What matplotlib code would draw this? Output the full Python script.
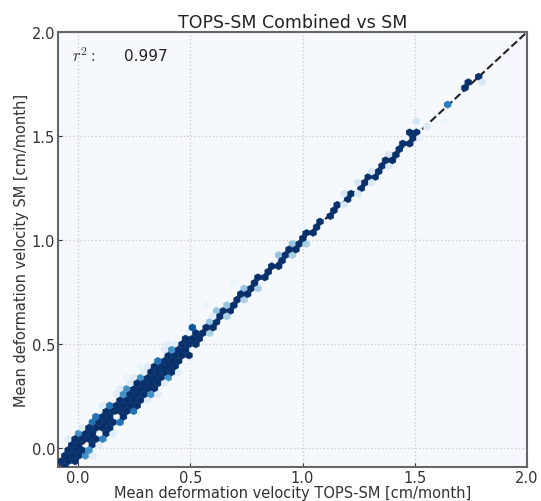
import numpy as np
import matplotlib
matplotlib.use('Agg')
import matplotlib.pyplot as plt

plt.rcParams['mathtext.fontset'] = 'cm'

# main diagonal band
core_x = [-0.07, -0.05, -0.03, -0.01, 0.01, 0.03, 0.05, 0.07, 0.09, 0.11,
          0.13, 0.15, 0.17, 0.19, 0.21, 0.23, 0.25, 0.27, 0.29, 0.31,
          0.33, 0.35, 0.37, 0.39, 0.41, 0.43, 0.45, 0.47, 0.49, 0.51,
          0.53, 0.55, 0.57, 0.59, 0.61, 0.63, 0.65, 0.67, 0.69, 0.71,
          0.73, 0.75, 0.77, 0.79, 0.81, 0.83, 0.85, 0.87, 0.89, 0.91,
          0.93, 0.95, 0.97, 0.99, 1.01, 1.03, 1.05, 1.07, 1.09, 1.11,
          1.13, 1.15, 1.17, 1.19, 1.21, 1.23, 1.25, 1.27, 1.29, 1.31,
          1.33, 1.35, 1.37, 1.39, 1.41, 1.43, 1.45, 1.47, 1.49, 1.51,
          0.00, 0.06, 0.08, 0.12, 0.16, 0.18, 0.20, 0.24, 0.28]
core_y = [-0.065, -0.05, -0.025, -0.005, 0.015, 0.035, 0.055, 0.075, 0.095, 0.115,
          0.135, 0.155, 0.175, 0.195, 0.215, 0.235, 0.255, 0.275, 0.295, 0.315,
          0.335, 0.355, 0.372, 0.392, 0.412, 0.432, 0.452, 0.47, 0.49, 0.51,
          0.53, 0.55, 0.57, 0.59, 0.61, 0.63, 0.65, 0.67, 0.69, 0.71,
          0.73, 0.75, 0.77, 0.79, 0.81, 0.83, 0.85, 0.87, 0.89, 0.91,
          0.93, 0.95, 0.97, 0.99, 1.01, 1.03, 1.05, 1.07, 1.09, 1.11,
          1.13, 1.15, 1.17, 1.19, 1.21, 1.23, 1.25, 1.27, 1.29, 1.31,
          1.33, 1.35, 1.37, 1.39, 1.41, 1.43, 1.45, 1.47, 1.49, 1.51,
          0.005, 0.06, 0.085, 0.12, 0.165, 0.18, 0.205, 0.24, 0.285]

# upper side of the band
up_x = [-0.06, -0.04, -0.02, 0.0, 0.02, 0.04, 0.06, 0.08, 0.10, 0.12,
        0.14, 0.16, 0.18, 0.20, 0.22, 0.24, 0.26, 0.28, 0.30, 0.32,
        0.34, 0.36, 0.38, 0.40, 0.42, 0.44, 0.46, 0.48, 0.50, 0.53,
        0.56, 0.59, 0.62, 0.66, 0.70, 0.75, 0.80, 0.85, 0.90, 0.96,
        1.02, 1.08, 1.14, 1.20, 1.26, 1.32, 1.38, 1.44]
up_y = [-0.025, -0.005, 0.015, 0.04, 0.06, 0.08, 0.10, 0.12, 0.14, 0.16,
        0.18, 0.20, 0.22, 0.24, 0.26, 0.28, 0.30, 0.32, 0.34, 0.36,
        0.38, 0.40, 0.42, 0.44, 0.455, 0.475, 0.495, 0.515, 0.535, 0.56,
        0.59, 0.62, 0.645, 0.685, 0.725, 0.77, 0.82, 0.87, 0.92, 0.98,
        1.04, 1.10, 1.16, 1.22, 1.28, 1.34, 1.40, 1.46]
up_w = [40] * 30 + [14] * 10 + [6] * 8

# lower side of the band
lo_x = [-0.05, -0.03, -0.01, 0.01, 0.03, 0.05, 0.07, 0.09, 0.11, 0.13,
        0.15, 0.17, 0.19, 0.21, 0.23, 0.25, 0.27, 0.29, 0.31, 0.33,
        0.35, 0.37, 0.39, 0.41, 0.43, 0.45, 0.47, 0.49, 0.52, 0.55,
        0.58, 0.61, 0.65, 0.69, 0.74, 0.79, 0.84, 0.89, 0.95, 1.01,
        1.07, 1.13, 1.19, 1.25, 1.31, 1.37, 1.43]
lo_y = [-0.09, -0.07, -0.05, -0.03, -0.01, 0.01, 0.03, 0.05, 0.07, 0.09,
        0.11, 0.13, 0.15, 0.17, 0.19, 0.21, 0.23, 0.25, 0.27, 0.29,
        0.31, 0.33, 0.35, 0.375, 0.395, 0.42, 0.44, 0.46, 0.495, 0.525,
        0.555, 0.585, 0.63, 0.67, 0.72, 0.77, 0.82, 0.87, 0.93, 0.99,
        1.05, 1.11, 1.17, 1.23, 1.29, 1.35, 1.41]
lo_w = [40] * 30 + [12] * 10 + [5] * 7

# second row above / below in the wide lower part
up2_x = [-0.05, -0.03, -0.01, 0.01, 0.03, 0.05, 0.07, 0.09, 0.11, 0.13,
         0.15, 0.17, 0.19, 0.21, 0.23, 0.25, 0.27, 0.29, 0.31, 0.33,
         0.35, 0.37, 0.39, 0.41, 0.43]
up2_y = [0.0, 0.02, 0.04, 0.06, 0.08, 0.10, 0.12, 0.14, 0.16, 0.18,
         0.20, 0.22, 0.24, 0.26, 0.28, 0.30, 0.32, 0.34, 0.36, 0.38,
         0.395, 0.415, 0.435, 0.455, 0.47]
lo2_x = [-0.02, 0.0, 0.02, 0.04, 0.06, 0.08, 0.10, 0.12, 0.14, 0.16,
         0.18, 0.20, 0.22, 0.24, 0.26, 0.28, 0.30, 0.32, 0.34, 0.36,
         0.38, 0.40, 0.42, 0.44, 0.46]
lo2_y = [-0.07, -0.05, -0.03, -0.01, 0.01, 0.03, 0.05, 0.07, 0.09, 0.11,
         0.13, 0.15, 0.17, 0.19, 0.21, 0.23, 0.25, 0.27, 0.29, 0.31,
         0.33, 0.35, 0.375, 0.395, 0.415]

# outer fringe (sparser, lighter)
fr_x = [-0.04, 0.02, 0.05, 0.08, 0.11, 0.14, 0.17, 0.20, 0.23, 0.26,
        0.29, 0.32, 0.35, 0.38, 0.41, 0.44, 0.05, 0.10, 0.15, 0.20,
        0.25, 0.30, 0.35, 0.40, 0.45, 0.60, 0.85]
fr_y = [0.04, 0.10, 0.13, 0.16, 0.19, 0.22, 0.25, 0.28, 0.31, 0.34,
        0.37, 0.40, 0.43, 0.46, 0.49, 0.51, -0.03, 0.02, 0.07, 0.12,
        0.17, 0.22, 0.27, 0.32, 0.38, 0.63, 0.88]

# scattered points and the upper end of the line
out_x = [0.11, 0.22, 0.27, 0.29, 0.48, 0.50, 0.52, 0.58, 0.69, 1.00,
         1.48, 1.50, 1.52, 1.53, 1.53, 1.55, 1.62, 1.66, 1.71, 1.73,
         1.75, 1.77, 1.79, 1.74]
out_y = [0.03, 0.35, 0.18, 0.40, 0.56, 0.39, 0.59, 0.68, 0.80, 1.06,
         1.52, 1.65, 1.58, 1.50, 1.71, 1.55, 1.58, 1.66, 1.73, 1.74,
         1.76, 1.78, 1.77, 1.75]
out_w = [2, 2, 1, 2, 3, 1, 30, 2, 2, 2,
         40, 1, 6, 3, 1, 5, 2, 25, 20, 40,
         40, 40, 5, 20]

x = np.array(core_x + up_x + lo_x + up2_x + lo2_x + fr_x + out_x)
y = np.array(core_y + up_y + lo_y + up2_y + lo2_y + fr_y + out_y)
w = np.array([60] * len(core_x) + up_w + lo_w + [22] * len(up2_x)
             + [22] * len(lo2_x) + [4] * len(fr_x) + out_w)

fig = plt.figure(figsize=(5.41, 5.02), dpi=100)
ax = fig.add_axes([0.107, 0.068, 0.867, 0.866])
ax.set_facecolor('#f5f9fe')

ax.plot([-0.09, 2.0], [-0.09, 2.0], '--', color='#222222', lw=1.5, zorder=2)
ax.hexbin(x, y, C=w, reduce_C_function=np.sum, gridsize=68, cmap='Blues',
          extent=(-0.09, 2.0, -0.09, 2.0), vmin=0, vmax=35, linewidths=0.3,
          edgecolors='face', zorder=3)

ax.set_xlim(-0.09, 2.0)
ax.set_ylim(-0.09, 2.0)
ax.set_xticks([0.0, 0.5, 1.0, 1.5, 2.0])
ax.set_yticks([0.0, 0.5, 1.0, 1.5, 2.0])
ax.tick_params(direction='in', length=3, labelsize=10.5, colors='#333333', pad=2)
ax.grid(True, color='#cccccc', linestyle=':', linewidth=1.0, zorder=1)
for s in ax.spines.values():
    s.set_color('#666666')
    s.set_linewidth(1.5)

ax.set_title('TOPS-SM Combined vs SM', fontsize=12.5, color='#222222', pad=4)
ax.set_xlabel('Mean deformation velocity TOPS-SM [cm/month]', fontsize=10.5,
              color='#333333', labelpad=0)
ax.set_ylabel('Mean deformation velocity SM [cm/month]', fontsize=10.5,
              color='#333333', labelpad=2)
ax.text(0.03, 0.946, r'$r^2:$', transform=ax.transAxes, fontsize=12,
        color='#333333', va='center')
ax.text(0.14, 0.946, '0.997', transform=ax.transAxes, fontsize=11,
        color='#222222', va='center')

fig.savefig('out.png', dpi=100)
